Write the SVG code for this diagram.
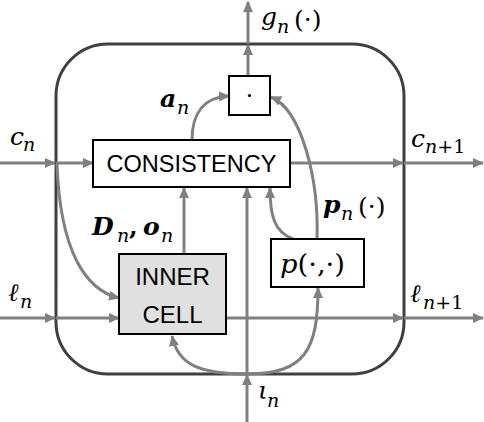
<svg xmlns="http://www.w3.org/2000/svg" width="484" height="422" viewBox="0 0 484 422">
<defs>
<marker id="ah" markerUnits="userSpaceOnUse" markerWidth="11" markerHeight="11" refX="10" refY="5" orient="auto">
<path d="M0,0 L11,5 L0,10 z" fill="#808080"/>
</marker>
<style>
.c{fill:none;stroke:#808080;stroke-width:3;marker-end:url(#ah)}
.box{fill:#fff;stroke:#000;stroke-width:2}
.t{font-family:"Liberation Sans","Open Sans",sans-serif;font-size:24px;fill:#000}
.m{font-family:"DejaVu Serif","Liberation Serif",serif;font-size:25px;fill:#000;font-style:italic}
.s{font-size:19px}
.u{font-style:normal}
.b{font-weight:bold}
</style>
</defs>
<rect width="484" height="422" fill="#fff"/>
<g id="cell">
<rect x="56" y="44" width="348" height="330" rx="52" ry="52" fill="none" stroke="#404040" stroke-width="3"/>
</g>
<g id="connectors">
<path class="c" d="M0,163 L55,163"/>
<path class="c" d="M56,163 L93,163"/>
<path class="c" d="M290,163 L403,163"/>
<path class="c" d="M404,163 L483,163"/>
<path class="c" d="M0,318 L55,318"/>
<path class="c" d="M56,318 L119,318"/>
<path class="c" d="M226,318 L403,318"/>
<path class="c" d="M404,318 L483,318"/>
<path class="c" d="M247,422 L247,375"/>
<path class="c" d="M247,374 L247,188"/>
<path class="c" d="M248,76 L248,45"/>
<path class="c" d="M248,44 L248,2"/>
<path class="c" d="M184,254 L184,188"/>
<path class="c" d="M192,140 C192,112 205,97 229,96"/>
<path class="c" d="M317,239 C319,180 302,110 271,97"/>
<path class="c" d="M293,239 C274,232 270,215 270,188"/>
<path class="c" d="M57,164 C60,250 85,290 119,298"/>
<path class="c" d="M247,374 C200,374 178,365 172,336"/>
<path class="c" d="M247,374 C305,374 318,350 318,288"/>
</g>
<g id="consistency">
<rect class="box" x="93" y="140" width="197" height="47"/>
<text class="t" x="191.5" y="172" text-anchor="middle" textLength="170" lengthAdjust="spacingAndGlyphs">CONSISTENCY</text>
</g>
<g id="dot">
<rect class="box" x="229" y="76" width="41" height="39"/>
<circle cx="249.5" cy="95.5" r="1.6" fill="#000"/>
</g>
<g id="inner-cell">
<rect x="119" y="254" width="107" height="80" fill="#e0e0e0" stroke="#000" stroke-width="2"/>
<text class="t" x="172.5" y="285" text-anchor="middle">INNER</text>
<text class="t" x="172.5" y="323" text-anchor="middle">CELL</text>
</g>
<g id="p">
<rect class="box" x="271" y="239" width="93" height="48"/>
<text class="m" x="280" y="273" style="font-size:26px" textLength="65" lengthAdjust="spacingAndGlyphs">p<tspan class="u">(·,·)</tspan></text>
</g>
<g id="labels">
<text class="m" x="261" y="25">g</text><text class="m s" x="277" y="33">n</text><text class="m u" x="294" y="28">(·)</text>
<text class="m b" x="160" y="107">a</text><text class="m s" x="177" y="114">n</text>
<text class="m" x="10" y="145">c</text><text class="m s" x="23" y="151">n</text>
<text class="m" x="411" y="147">c</text><text class="m s" x="425" y="153">n<tspan class="u">+1</tspan></text>
<text class="m b" x="92" y="235">D</text><text class="m s" x="117" y="242">n</text><text class="m u b" x="129" y="235">,</text><text class="m b" x="143" y="235">o</text><text class="m s" x="161" y="242">n</text>
<text class="m b" x="323" y="213">p</text><text class="m s" x="341" y="220">n</text><text class="m u" x="358" y="215">(·)</text>
<text class="m" x="8" y="301">ℓ</text><text class="m s" x="20" y="308">n</text>
<text class="m" x="410" y="302">ℓ</text><text class="m s" x="423" y="309">n<tspan class="u">+1</tspan></text>
<text class="m" x="258" y="399">ι</text><text class="m s" x="267" y="407">n</text>
</g>
</svg>
